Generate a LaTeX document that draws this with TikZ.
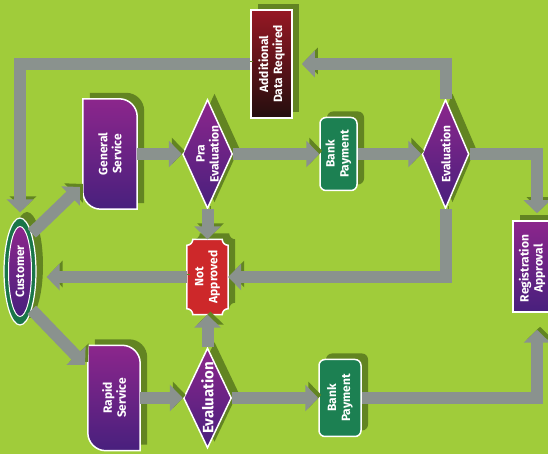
\documentclass[tikz,border=0pt]{standalone}
\usepackage{fontspec}
\setsansfont{Fira Sans}
\usetikzlibrary{shapes.geometric,arrows.meta,shadows}

\definecolor{bggreen}{RGB}{160,204,58}
\definecolor{shadegreen}{RGB}{98,132,34}
\definecolor{arrowgray}{RGB}{138,146,142}
\definecolor{purpletop}{RGB}{140,38,140}
\definecolor{purplebot}{RGB}{72,32,125}
\definecolor{bankgreen}{RGB}{28,128,82}
\definecolor{custgreen}{RGB}{26,118,72}
\definecolor{notred}{RGB}{205,40,42}
\definecolor{addred}{RGB}{150,24,36}
\definecolor{addblack}{RGB}{35,14,14}

\pgfdeclarelayer{bg}
\pgfdeclarelayer{shp}
\pgfsetlayers{bg,shp,main}

\newcommand\boxfont{\sffamily\bfseries\fontsize{12}{14}\selectfont}

\tikzset{
  txt/.style={rotate=90, align=center, text=white, font=\boxfont, inner sep=0pt},
  shad/.style={drop shadow={shadow xshift=7pt, shadow yshift=6pt, fill=shadegreen, opacity=1}},
  purp/.style={top color=purpletop, bottom color=purplebot},
  decision/.style={diamond, purp, draw=white, line width=1.5pt, inner sep=0pt, shad},
  bank/.style={rectangle, rounded corners=6pt, fill=bankgreen, draw=white, line width=1.5pt, inner sep=0pt, shad},
  hold/.style={rectangle, inner sep=0pt},
  flow/.style={line width=12pt, draw=arrowgray, -{Triangle[width=26pt,length=13pt]},
    preaction={draw=shadegreen, transform canvas={shift={(3pt,3pt)}}}},
}

\begin{document}
\begin{tikzpicture}[x=1pt,y=1pt]
	\useasboundingbox (0,0) rectangle (548,454);
	\begin{pgfonlayer}{bg}
		\fill[bggreen] (0,0) rectangle (548,454);
	\end{pgfonlayer}
	
	% upper row
	\node[hold, minimum width=54pt, minimum height=110pt, label={[txt]center:General\\Service}] (gs) at (110,300) {};
	\node[decision, minimum width=50pt, minimum height=109pt, label={[txt]center:Pra\\Evaluation}] (pra) at (207.5,300) {};
	\node[bank, minimum width=37pt, minimum height=73pt, label={[txt]center:Bank\\Payment}] (bank1) at (338.5,300) {};
	\node[decision, minimum width=47pt, minimum height=109pt, label={[txt]center:Evaluation}] (eval1) at (445.5,300) {};
	\node[rectangle, top color=addred, bottom color=addblack, draw=white, line width=1.5pt, shad,
		minimum width=41pt, minimum height=108pt, label={[txt]center:Additional\\Data Required}] (add) at (271.5,390) {};
	
	% middle
	\node[rectangle, purp, draw=white, line width=1.5pt, shad, minimum width=38pt, minimum height=91pt,
		label={[txt, xshift=-2pt]center:Registration\\Approval}] (reg) at (532,187.5) {};
	\node[ellipse, fill=custgreen, draw=white, line width=1.2pt, shad, minimum width=32pt, minimum height=107pt] (cust) at (20,182.5) {};
	\node[ellipse, purp, draw=white, line width=1pt, minimum width=23pt, minimum height=90pt, label={[txt]center:Customer}] (custin) at (cust.center) {};
	\node[hold, minimum width=41pt, minimum height=75pt, label={[txt]center:Not\\Approved}] (na) at (207.5,177) {};
	
	% lower row
	\node[hold, minimum width=52pt, minimum height=105pt, label={[txt]center:Rapid\\Service}] (rs) at (114,56) {};
	\node[decision, minimum width=48pt, minimum height=100pt,
		label={[txt, font=\boxfont\fontsize{15}{17}\selectfont]center:Evaluation}] (eval2) at (207.5,56) {};
	\node[bank, minimum width=42pt, minimum height=77pt, label={[txt]center:Bank\\Payment}] (bank2) at (340,56) {};
	
	% service boxes and the red box
	\begin{pgfonlayer}{shp}
		\foreach \s in {gs,rs}
		\path[purp, draw=white, line width=1.5pt, shad] (\s.north west) -- ([xshift=-18pt]\s.north east)
			arc[start angle=90, end angle=0, radius=18pt] -- (\s.south east) -- ([xshift=18pt]\s.south west)
			arc[start angle=270, end angle=180, radius=18pt] -- cycle;
		\path[fill=notred, draw=white, line width=1.5pt, shad] ([yshift=-6pt]na.north west)
			arc[start angle=-90, end angle=0, radius=6pt] -- ([xshift=-6pt]na.north east)
			arc[start angle=180, end angle=270, radius=6pt] -- ([yshift=6pt]na.south east)
			arc[start angle=90, end angle=180, radius=6pt] -- ([xshift=6pt]na.south west)
			arc[start angle=0, end angle=90, radius=6pt] -- cycle;
	\end{pgfonlayer}
	
	% arrows
	\draw[flow, shorten >=5pt] (add.west) -| (cust.north);
	\draw[flow, shorten >=4pt] (cust.north east) -- (gs.228);
	\draw[flow] (gs) -- (pra);
	\draw[flow] (pra) -- (bank1);
	\draw[flow] (bank1) -- (eval1);
	\draw[flow, shorten >=9pt] (eval1.north) |- (add.east);
	\draw[flow, shorten >=7pt] (eval1.east) -| ([xshift=5pt]reg.north);
	\draw[flow] (eval1.south) |- (na.east);
	\draw[flow] (pra) -- (na);
	\draw[flow, shorten >=10pt] (na.west) -- (na.west -| cust.east);
	\draw[flow, shorten >=4pt] (cust.south east) -- (rs.131);
	\draw[flow] (rs) -- (eval2);
	\draw[flow] (eval2) -- (na);
	\draw[flow] (eval2) -- (bank2);
	\draw[flow, shorten >=17pt] (bank2.east) -| ([xshift=5pt]reg.south);
\end{tikzpicture}
\end{document}
